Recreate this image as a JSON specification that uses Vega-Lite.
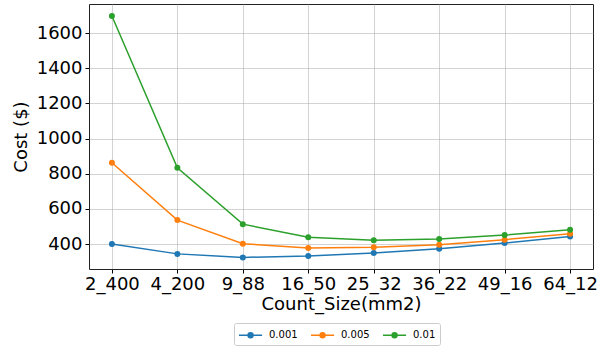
{
  "$schema": "https://vega.github.io/schema/vega-lite/v6.json",
  "width": 504,
  "height": 265,
  "autosize": {"type": "none"},
  "padding": {"left": 89, "top": 4, "right": 15, "bottom": 78},
  "config": {
    "font": "DejaVu Sans",
    "view": {"stroke": "#222222", "strokeWidth": 1},
    "axis": {
      "labelFont": "DejaVu Sans",
      "titleFont": "DejaVu Sans",
      "labelFontSize": 18,
      "titleFontSize": 18,
      "labelColor": "#000000",
      "titleColor": "#000000",
      "titleFontWeight": "normal",
      "domain": false,
      "tickColor": "#000000",
      "tickSize": 4,
      "gridColor": "#b0b0b0",
      "gridOpacity": 0.7,
      "gridWidth": 0.8
    },
    "legend": {
      "labelFont": "DejaVu Sans",
      "labelFontSize": 10,
      "labelColor": "#000000"
    }
  },
  "data": {
    "values": [
      {"x": "2_400", "s": "0.001", "v": 400},
      {"x": "4_200", "s": "0.001", "v": 344},
      {"x": "9_88", "s": "0.001", "v": 324},
      {"x": "16_50", "s": "0.001", "v": 332},
      {"x": "25_32", "s": "0.001", "v": 349},
      {"x": "36_22", "s": "0.001", "v": 373},
      {"x": "49_16", "s": "0.001", "v": 406},
      {"x": "64_12", "s": "0.001", "v": 443},
      {"x": "2_400", "s": "0.005", "v": 862},
      {"x": "4_200", "s": "0.005", "v": 536},
      {"x": "9_88", "s": "0.005", "v": 402},
      {"x": "16_50", "s": "0.005", "v": 377},
      {"x": "25_32", "s": "0.005", "v": 381},
      {"x": "36_22", "s": "0.005", "v": 396},
      {"x": "49_16", "s": "0.005", "v": 425},
      {"x": "64_12", "s": "0.005", "v": 458},
      {"x": "2_400", "s": "0.01", "v": 1697},
      {"x": "4_200", "s": "0.01", "v": 834},
      {"x": "9_88", "s": "0.01", "v": 513},
      {"x": "16_50", "s": "0.01", "v": 438},
      {"x": "25_32", "s": "0.01", "v": 421},
      {"x": "36_22", "s": "0.01", "v": 428},
      {"x": "49_16", "s": "0.01", "v": 451},
      {"x": "64_12", "s": "0.01", "v": 481}
    ]
  },
  "encoding": {
    "x": {
      "field": "x",
      "type": "ordinal",
      "sort": null,
      "scale": {"type": "point", "padding": 0.35},
      "axis": {"title": "Count_Size(mm2)", "labelAngle": 0, "labelPadding": 2, "titlePadding": 2, "grid": true}
    },
    "y": {
      "field": "v",
      "type": "quantitative",
      "scale": {"domain": [258, 1765], "nice": false, "zero": false},
      "axis": {"title": "Cost ($)", "format": "d", "values": [400, 600, 800, 1000, 1200, 1400, 1600], "labelPadding": 3, "titlePadding": 6, "grid": true}
    },
    "color": {
      "field": "s",
      "type": "nominal",
      "scale": {"domain": ["0.001", "0.005", "0.01"], "range": ["#1f77b4", "#ff7f0e", "#2ca02c"]},
      "legend": {
        "title": null,
        "orient": "none",
        "direction": "horizontal",
        "legendX": 145,
        "legendY": 319,
        "strokeColor": "#cccccc",
        "padding": 4,
        "cornerRadius": 2,
        "symbolType": "M-1,0L2.3,0M1.0,0A0.35,0.35,0,1,1,0.3,0A0.35,0.35,0,1,1,1.0,0Z",
        "symbolSize": 196,
        "symbolStrokeWidth": 1.5,
        "columnPadding": 10,
        "labelOffset": 15
      }
    }
  },
  "layer": [
    {"mark": {"type": "line", "strokeWidth": 1.5}},
    {"mark": {"type": "point", "filled": true, "size": 36, "opacity": 1}}
  ]
}
